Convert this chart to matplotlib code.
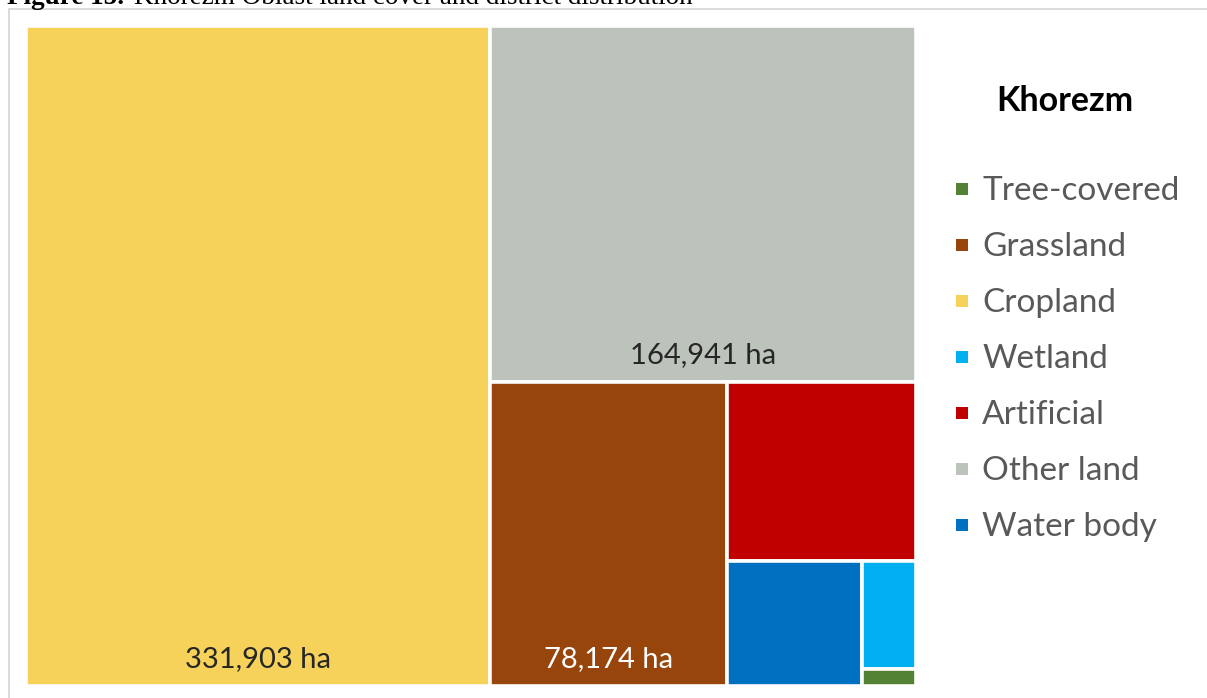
import matplotlib
matplotlib.use("Agg")
import matplotlib.pyplot as plt
from matplotlib.patches import Rectangle

# land cover areas (ha), Khorezm, largest first
classes = ["Cropland", "Other land", "Grassland", "Artificial", "Water body", "Wetland", "Tree-covered"]
areas = [331903, 164941, 78174, 36600, 18400, 6300, 980]
colors = ["#F6D25A", "#BCC3BA", "#98450C", "#C00000", "#0070C0", "#00B0F0", "#548235"]
show_label = [True, True, True, False, False, False, False]
label_colors = ["#262626", "#262626", "#FFFFFF", None, None, None, None]

legend_order = ["Tree-covered", "Grassland", "Cropland", "Wetland", "Artificial", "Other land", "Water body"]

W, H = 1207, 698
fig = plt.figure(figsize=(W / 100, H / 100), dpi=100)

# frame of the figure box
fig.patches.append(Rectangle((9 / W, -0.01), 1.0, 1 - 9 / H + 0.01, transform=fig.transFigure,
                             fill=False, edgecolor="#d4d4d4", linewidth=1.2))

# caption, cut off at the very top as in the source page
fig.text(7 / W, 1 - 4 / H, "Figure 15.", family="Liberation Serif", weight="bold",
         fontsize=19.5, va="baseline", ha="left", color="black")
fig.text(134 / W, 1 - 4 / H, "Khorezm Oblast land cover and district distribution",
         family="Liberation Serif", fontsize=19.5, va="baseline", ha="left", color="black")

ax = fig.add_axes([26 / W, 12 / H, 890 / W, 660 / H])
bw, bh = 890.0, 660.0
ax.set_xlim(0, bw)
ax.set_ylim(0, bh)
ax.axis("off")


def treemap(values, x, y, w, h):
    # one item per strip, strip taken along the shorter side
    total = float(sum(values))
    rects = []
    for i, v in enumerate(values):
        if i == len(values) - 1:
            rects.append((x, y, w, h))
            break
        frac = v / total
        if w >= h:
            cw = w * frac
            rects.append((x, y, cw, h))
            x += cw
            w -= cw
        else:
            ch = h * frac
            rects.append((x, y + h - ch, w, ch))
            h -= ch
        total -= v
    return rects


rects = treemap(areas, 0, 0, bw, bh)
for (rx, ry, rw, rh), name, val, col, lab, lc in zip(rects, classes, areas, colors, show_label, label_colors):
    ax.add_patch(Rectangle((rx, ry), rw, rh, facecolor=col, edgecolor="white", linewidth=2.6))
    if lab:
        ax.annotate(f"{val:,} ha", (rx + rw / 2, ry), xytext=(0, 27), textcoords="offset pixels",
                    ha="center", va="center", fontsize=21, family="Lato", color=lc)

# legend
fig.text(1065 / W, 1 - 101 / H, "Khorezm", ha="center", va="center", fontsize=24.5,
         family="Lato", weight="bold", color="black")
cmap = dict(zip(classes, colors))
for i, name in enumerate(legend_order):
    yc = 189 + 56 * i
    fig.patches.append(Rectangle((956 / W, 1 - (yc + 6) / H), 12 / W, 12 / H,
                                 transform=fig.transFigure, facecolor=cmap[name], edgecolor="none"))
    fig.text(982 / W, 1 - (yc + 2) / H, name, ha="left", va="center", fontsize=24,
             family="Lato", color="#595959")

fig.savefig("out.png", dpi=100)
